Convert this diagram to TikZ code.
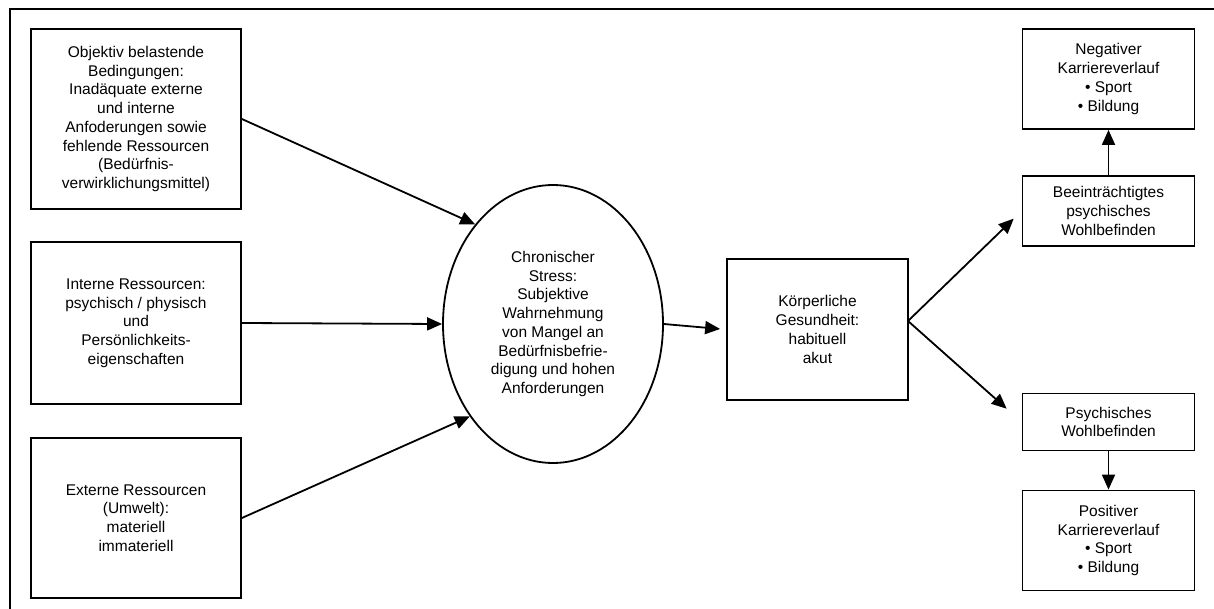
\documentclass[tikz,border=0pt]{standalone}
\usepackage{fontspec}
\setmainfont{Liberation Sans}
\usetikzlibrary{arrows.meta,shapes.geometric,calc}
\begin{document}
\begin{tikzpicture}[x=1pt,y=-1pt,
  box/.style={draw,line width=1.8pt,rectangle,inner sep=0pt,align=center,font=\fontsize{15.5}{18.7}\selectfont},
  ell/.style={draw,line width=1.8pt,ellipse,inner sep=0pt,align=center,font=\fontsize{15.5}{18.7}\selectfont},
  arr/.style={line width=1.8pt,-{Triangle[length=15pt,width=13pt]}},
  frame/.style={line width=1.8pt}]
\useasboundingbox (0,0) rectangle (1214,609);
\coordinate (ftr) at (1214,9);
\coordinate (ftl) at (10,9);
\coordinate (fbl) at (10,609);
\draw[frame] (ftr) -- (ftl) -- (fbl);

\node[box,minimum width=210pt,minimum height=180pt] (b1) at (136,119)
  {Objektiv belastende\\Bedingungen:\\Inadäquate externe\\und interne\\Anfoderungen sowie\\fehlende Ressourcen\\(Bedürfnis-\\verwirklichungsmittel)};
\node[box,minimum width=210pt,minimum height=162pt] (b2) at (136,323)
  {Interne Ressourcen:\\psychisch / physisch\\und\\Persönlichkeits-\\eigenschaften};
\node[box,minimum width=210pt,minimum height=160pt] (b3) at (136,518)
  {Externe Ressourcen\\(Umwelt):\\materiell\\immateriell};
\node[ell,minimum width=220pt,minimum height=278pt] (e) at (553,324)
  {Chronischer\\Stress:\\Subjektive\\Wahrnehmung\\von Mangel an\\Bedürfnisbefrie-\\digung und hohen\\Anforderungen};
\node[box,minimum width=181pt,minimum height=141pt] (k) at (817.5,329.5)
  {Körperliche\\Gesundheit:\\habituell\\akut};
\node[box,minimum width=172pt,minimum height=70pt] (bee) at (1108.5,211)
  {Beeinträchtigtes\\psychisches\\Wohlbefinden};
\node[box,minimum width=172pt,minimum height=100pt] (neg) at (1108.5,79)
  {Negativer\\Karriereverlauf\\• Sport\\• Bildung};
\node[box,minimum width=172pt,minimum height=57pt] (psy) at (1108.5,422)
  {Psychisches\\Wohlbefinden};
\node[box,minimum width=172pt,minimum height=100pt] (pos) at (1108.5,540.5)
  {Positiver\\Karriereverlauf\\• Sport\\• Bildung};

\coordinate (split) at (908,321);
\draw[arr] (b1.east) -- (e.128);
\draw[arr] (b2.east) -- (e.west);
\draw[arr] (b3.east) -- (e.228.5);
\draw[arr,shorten >=6pt] (e.east) -- (k.west);
\draw[arr,shorten >=11pt] (split) -- (bee.west);
\draw[arr,shorten >=20pt] (split) -- (psy.west);
\draw[arr] (bee.north) -- (neg.south);
\draw[arr] (psy.south) -- (pos.north);
\end{tikzpicture}
\end{document}
